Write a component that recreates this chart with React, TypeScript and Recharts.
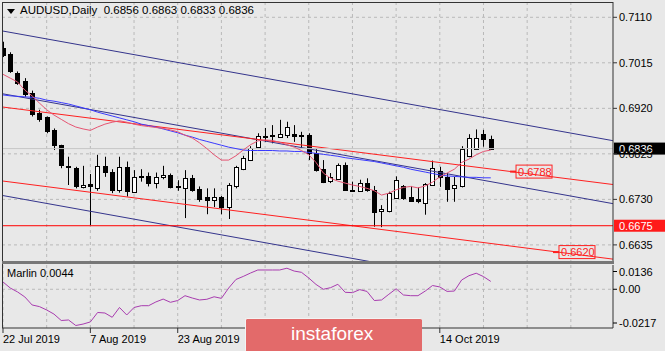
import React from 'react'
import {
  Bar,
  CartesianGrid,
  ComposedChart,
  Line,
  ReferenceDot,
  ReferenceLine,
  XAxis,
  YAxis
} from 'recharts'

// AUDUSD daily bars, 22 Jul 2019 .. 23 Oct 2019
const opens = [
  0.7046, 0.7033, 0.6994, 0.6976, 0.6953, 0.6911, 0.6901, 0.6875, 0.6844, 0.6800,
  0.6795, 0.6755, 0.6762, 0.6755, 0.6800, 0.6788, 0.6750, 0.6797, 0.6746, 0.6779,
  0.6779, 0.6764, 0.6776, 0.6781, 0.6758, 0.6753, 0.6775, 0.6751, 0.6734, 0.6727,
  0.6734, 0.6714, 0.6758, 0.6793, 0.6811, 0.6840, 0.6862, 0.6864, 0.6861, 0.6864,
  0.6867, 0.6864, 0.6864, 0.6826, 0.6793, 0.6767, 0.6772, 0.6802, 0.6750, 0.6748,
  0.6765, 0.6750, 0.6705, 0.6706, 0.6733, 0.6758, 0.6736, 0.6730, 0.6722, 0.6760,
  0.6790, 0.6777, 0.6753, 0.6757, 0.6821, 0.6836, 0.6866, 0.6856
]
const highs = [
  0.7059, 0.7037, 0.6997, 0.6983, 0.6957, 0.6917, 0.6903, 0.6878, 0.6844, 0.6819,
  0.6798, 0.6800, 0.6783, 0.6823, 0.6819, 0.6793, 0.6819, 0.6809, 0.6791, 0.6793,
  0.6786, 0.6786, 0.6800, 0.6784, 0.6770, 0.6791, 0.6781, 0.6757, 0.6753, 0.6753,
  0.6737, 0.6764, 0.6800, 0.6821, 0.6841, 0.6868, 0.6879, 0.6885, 0.6896, 0.6892,
  0.6885, 0.6871, 0.6868, 0.6835, 0.6812, 0.6785, 0.6805, 0.6807, 0.6767, 0.6771,
  0.6774, 0.6758, 0.6718, 0.6746, 0.6778, 0.6760, 0.6758, 0.6755, 0.6764, 0.6811,
  0.6798, 0.6785, 0.6777, 0.6841, 0.6866, 0.6876, 0.6875, 0.6863
]
const lows = [
  0.7027, 0.6994, 0.6969, 0.6944, 0.6903, 0.6892, 0.6868, 0.6833, 0.6795, 0.6760,
  0.6753, 0.6753, 0.6676, 0.6748, 0.6777, 0.6743, 0.6744, 0.6736, 0.6744, 0.6767,
  0.6757, 0.6753, 0.6772, 0.6753, 0.6748, 0.6691, 0.6746, 0.6725, 0.6699, 0.6714,
  0.6699, 0.6689, 0.6753, 0.6791, 0.6810, 0.6839, 0.6850, 0.6847, 0.6860, 0.6858,
  0.6850, 0.6837, 0.6812, 0.6788, 0.6764, 0.6764, 0.6771, 0.6748, 0.6746, 0.6746,
  0.6746, 0.6673, 0.6672, 0.6703, 0.6731, 0.6729, 0.6725, 0.6722, 0.6698, 0.6758,
  0.6756, 0.6725, 0.6725, 0.6755, 0.6818, 0.6834, 0.6840, 0.6833
]
const closes = [
  0.7031, 0.6998, 0.6973, 0.6948, 0.6910, 0.6899, 0.6871, 0.6844, 0.6802, 0.6799,
  0.6757, 0.6760, 0.6757, 0.6800, 0.6788, 0.6750, 0.6797, 0.6746, 0.6777, 0.6776,
  0.6764, 0.6776, 0.6781, 0.6757, 0.6757, 0.6774, 0.6751, 0.6730, 0.6727, 0.6734,
  0.6714, 0.6760, 0.6798, 0.6816, 0.6837, 0.6862, 0.6863, 0.6861, 0.6867, 0.6881,
  0.6863, 0.6863, 0.6826, 0.6791, 0.6765, 0.6776, 0.6802, 0.6750, 0.6748, 0.6765,
  0.6750, 0.6704, 0.6710, 0.6743, 0.6771, 0.6733, 0.6727, 0.6725, 0.6762, 0.6795,
  0.6777, 0.6751, 0.6760, 0.6835, 0.6858, 0.6858, 0.6856, 0.6836
]
const fastMa = [
  0.6991, 0.6983, 0.6975, 0.6958, 0.6946, 0.6931, 0.6917, 0.6906, 0.6897, 0.6888,
  0.6881, 0.6877, 0.6874, 0.6881, 0.6887, 0.6891, 0.6894, 0.6891, 0.6887, 0.6884,
  0.6882, 0.6880, 0.6878, 0.6875, 0.6871, 0.6864, 0.6858, 0.6848, 0.6836, 0.6823,
  0.6812, 0.6812, 0.6821, 0.6833, 0.6844, 0.6852, 0.6854, 0.6853, 0.6849, 0.6844,
  0.6839, 0.6832, 0.6823, 0.6807, 0.6785, 0.6774, 0.6768, 0.6764, 0.6760, 0.6757,
  0.6753, 0.6748, 0.6739, 0.6743, 0.6750, 0.6755, 0.6757, 0.6754, 0.6758, 0.6766,
  0.6777, 0.6785, 0.6793, 0.6807, 0.6814, 0.6823, 0.6830, 0.6833
]
const slowMa = [
  0.6948, 0.6946, 0.6945, 0.6944, 0.6943, 0.6941, 0.6937, 0.6935, 0.6932, 0.6929,
  0.6925, 0.6921, 0.6917, 0.6912, 0.6908, 0.6904, 0.6900, 0.6896, 0.6892, 0.6887,
  0.6884, 0.6881, 0.6877, 0.6873, 0.6869, 0.6864, 0.6860, 0.6855, 0.6851, 0.6847,
  0.6843, 0.6839, 0.6836, 0.6833, 0.6832, 0.6832, 0.6832, 0.6832, 0.6831, 0.6831,
  0.6830, 0.6830, 0.6828, 0.6826, 0.6824, 0.6822, 0.6820, 0.6817, 0.6815, 0.6813,
  0.6811, 0.6809, 0.6806, 0.6803, 0.6800, 0.6797, 0.6793, 0.6790, 0.6787, 0.6784,
  0.6781, 0.6779, 0.6778, 0.6777, 0.6776, 0.6776, 0.6775, 0.6775
]
const marlin = [
  0.0041, 0.0007, -0.0015, -0.0043, -0.0088, -0.0097, -0.0116, -0.0139, -0.0175, -0.0172,
  -0.0203, -0.0195, -0.0183, -0.013, -0.0133, -0.0157, -0.0102, -0.0144, -0.0102, -0.0092,
  -0.0092, -0.0071, -0.0055, -0.0073, -0.0063, -0.0036, -0.0049, -0.006, -0.0056, -0.0042,
  -0.0051, 0.0007, 0.0055, 0.0072, 0.0091, 0.0108, 0.0108, 0.0108, 0.0108, 0.0118,
  0.0102, 0.0095, 0.0063, 0.0027, 0.0, 0.0009, 0.0028, -0.0017, -0.0019, -0.0002,
  -0.0012, -0.0063, -0.006, -0.0028, 0.0003, -0.0032, -0.0036, -0.0036, -0.001, 0.0021,
  0.0013, -0.0012, -0.001, 0.0052, 0.0076, 0.009, 0.0071, 0.0044
]

const priceTicks = [0.6635, 0.673, 0.6825, 0.692, 0.7015, 0.711]
const marlinTicks = [-0.0217, 0, 0.0136]
// labels under the watermark (10 Sep, 26 Sep) are not visible, so left out
const dateTicks = [0, 12, 24, 60]
const dateLabels = ['22 Jul 2019', '7 Aug 2019', '23 Aug 2019', '14 Oct 2019']
const gridBars = [0, 6, 12, 18, 24, 30, 36, 42, 48, 54, 60, 66, 72, 78]

// trend lines: [barIndex, price] at both ends
const blueChannel = [
  [[-0.137, 0.70816], [83.79, 0.68525]],
  [[-0.137, 0.69506], [83.79, 0.67211]],
  [[-0.137, 0.67383], [83.79, 0.6509]]
]
const redChannel = [
  [[-0.137, 0.69229], [83.79, 0.6761]],
  [[-0.137, 0.67685], [83.79, 0.66053]]
]
const supportLevel = 0.6675
const lastPrice = 0.6836
const lineTags = [
  { bar: 70.47, price: 0.6788, text: '0.6788' },
  { bar: 76.37, price: 0.662, text: '0.6620' }
]

const xDomain = [-0.137, 83.79]
const priceDomain = [0.66014, 0.71419]
const marlinDomain = [-0.0217, 0.0136]

const FONT = '"Liberation Sans", Arial, sans-serif'
const BG = '#e8e8e8'
const GRID = '#b9b9b9'
const NAVY = '#34348c'
const RED = '#ff2020'

const rows = opens.map((open, i) => ({
  i,
  open,
  high: highs[i],
  low: lows[i],
  close: closes[i],
  fast: fastMa[i],
  slow: slowMa[i],
  marlin: marlin[i]
}))

function Candle(props: any) {
  const { x, y, width, height, payload } = props
  if (x == null || payload == null) return null
  const top = Math.min(y, y + height)
  const h = Math.abs(height)
  const span = payload.high - payload.low
  const k = span > 0 ? h / span : 0
  const cx = Math.round(x + width / 2) + 0.5
  const bTop = top + (payload.high - Math.max(payload.open, payload.close)) * k
  const bBot = top + (payload.high - Math.min(payload.open, payload.close)) * k
  const up = payload.close >= payload.open
  return (
    <g>
      <line x1={cx} x2={cx} y1={top} y2={top + h} stroke="#000" />
      <rect
        x={cx - 2}
        y={Math.round(bTop) + 0.5}
        width={4}
        height={Math.max(1, Math.round(bBot - bTop))}
        fill={up ? '#fff' : '#000'}
        stroke="#000"
      />
    </g>
  )
}

function LineTag({ cx, cy, text }: any) {
  if (cx == null) return null
  return (
    <g>
      <line x1={cx - 6} x2={cx} y1={cy} y2={cy} stroke={RED} strokeWidth={2} />
      <rect x={cx} y={cy - 6.5} width={36} height={13} fill="none" stroke={RED} />
      <text x={cx + 2} y={cy + 4} fill={RED} fontSize={11} fontFamily={FONT}>
        {text}
      </text>
    </g>
  )
}

function AxisBox({ viewBox, text, fill }: any) {
  if (!viewBox) return null
  const x = viewBox.x + viewBox.width + 1
  const y = viewBox.y
  return (
    <g>
      <rect x={x} y={y - 6} width={52} height={12} fill={fill} />
      <text x={x + 5} y={y + 4} fill="#fff" fontSize={11} fontFamily={FONT}>
        {text}
      </text>
    </g>
  )
}

function MarlinTick({ x, y, payload }: any) {
  const v = payload.value
  const shift = v > 0.01 ? 6.5 : v < -0.02 ? -5 : 0
  const label = v === 0 ? '0.00' : v.toFixed(4)
  return (
    <g>
      <line x1={x - 6} x2={x - 2} y1={y + shift} y2={y + shift} stroke="#000" />
      <text x={x} y={y + shift + 4} fontSize={11} fontFamily={FONT} fill="#000">
        {label}
      </text>
    </g>
  )
}

function DateTick({ x, y, payload }: any) {
  const idx = dateTicks.indexOf(payload.value)
  return (
    <text x={x} y={y} dy="0.71em" fontSize={11} fontFamily={FONT} fill="#000" textAnchor="start">
      {dateLabels[idx]}
    </text>
  )
}

export default function App() {
  return (
    <div
      style={{
        position: 'absolute',
        left: 0,
        top: 0,
        width: 665,
        height: 351,
        background: BG,
        overflow: 'hidden',
        fontFamily: FONT
      }}
    >
      <div style={{ position: 'absolute', left: 0, top: 0 }}>
        <ComposedChart width={665} height={263} data={rows} margin={{ top: 2, right: 0, bottom: 2, left: 2 }}>
          <CartesianGrid
            stroke={GRID}
            strokeDasharray="3 3"
            horizontalValues={priceTicks}
            verticalValues={gridBars}
          />
          <XAxis type="number" dataKey="i" domain={xDomain} allowDataOverflow hide />
          <YAxis
            orientation="right"
            width={52}
            domain={priceDomain}
            allowDataOverflow
            ticks={priceTicks}
            interval={0}
            tickFormatter={(v: number) => v.toFixed(4)}
            tick={{ fontSize: 11, fontFamily: FONT, fill: '#000', textAnchor: 'start' }}
            tickSize={4}
            tickMargin={2}
            stroke="#333"
          />
          {blueChannel.map((seg, k) => (
            <ReferenceLine
              key={'b' + k}
              segment={[{ x: seg[0][0], y: seg[0][1] }, { x: seg[1][0], y: seg[1][1] }]}
              stroke={NAVY}
              ifOverflow="hidden"
            />
          ))}
          {redChannel.map((seg, k) => (
            <ReferenceLine
              key={'r' + k}
              segment={[{ x: seg[0][0], y: seg[0][1] }, { x: seg[1][0], y: seg[1][1] }]}
              stroke={RED}
              ifOverflow="hidden"
            />
          ))}
          <ReferenceLine
            y={lastPrice}
            stroke="#c6c6c6"
            label={{ content: (p: any) => <AxisBox viewBox={p.viewBox} text={lastPrice.toFixed(4)} fill="#000" /> }}
          />
          <ReferenceLine
            y={supportLevel}
            stroke="#ff0000"
            label={{ content: (p: any) => <AxisBox viewBox={p.viewBox} text={supportLevel.toFixed(4)} fill="#ff1a1a" /> }}
          />
          <Line dataKey="slow" stroke="#3a3aff" strokeWidth={1} dot={false} isAnimationActive={false} />
          <Line dataKey="fast" stroke="#e65573" strokeWidth={1} dot={false} isAnimationActive={false} />
          <Bar
            dataKey={(d: any) => [d.low, d.high]}
            barSize={5}
            shape={<Candle />}
            isAnimationActive={false}
          />
          {lineTags.map((t) => (
            <ReferenceDot
              key={t.text}
              x={t.bar}
              y={t.price}
              r={1}
              shape={(p: any) => <LineTag cx={p.cx} cy={p.cy} text={t.text} />}
            />
          ))}
        </ComposedChart>
      </div>

      <div style={{ position: 'absolute', left: 0, top: 263 }}>
        <ComposedChart width={665} height={88} data={rows} margin={{ top: 2, right: 0, bottom: 0, left: 2 }}>
          <CartesianGrid
            stroke={GRID}
            strokeDasharray="3 3"
            horizontalValues={[0]}
            verticalValues={gridBars}
          />
          <XAxis
            type="number"
            dataKey="i"
            domain={xDomain}
            allowDataOverflow
            ticks={dateTicks}
            interval={0}
            tick={<DateTick />}
            tickSize={5}
            tickMargin={2}
            height={23}
            stroke="#333"
          />
          <YAxis
            orientation="right"
            width={52}
            domain={marlinDomain}
            allowDataOverflow
            ticks={marlinTicks}
            interval={0}
            tick={<MarlinTick />}
            tickLine={false}
            tickSize={4}
            tickMargin={2}
            stroke="#333"
          />
          <Line dataKey="marlin" stroke="#a83caf" strokeWidth={1} dot={false} isAnimationActive={false} />
        </ComposedChart>
      </div>

      {/* frame */}
      <div style={{ position: 'absolute', left: 2, top: 2, width: 611, height: 259, borderLeft: '1px solid #333', borderTop: '1px solid #333', boxSizing: 'border-box' }} />
      <div style={{ position: 'absolute', left: 2, top: 261, width: 612, height: 3, background: '#777' }} />
      <div style={{ position: 'absolute', left: 2, top: 264, width: 1, height: 64, background: '#333' }} />

      {/* title */}
      <div style={{ position: 'absolute', left: 7, top: 9, width: 0, height: 0, borderLeft: '4px solid transparent', borderRight: '4px solid transparent', borderTop: '5px solid #000' }} />
      <div style={{ position: 'absolute', left: 20, top: 4, fontSize: 11.5, color: '#000', whiteSpace: 'pre' }}>
        {'AUDUSD,Daily  0.6856 0.6863 0.6833 0.6836'}
      </div>
      <div style={{ position: 'absolute', left: 7, top: 267, fontSize: 11, color: '#000', whiteSpace: 'pre' }}>
        {'Marlin 0.0044'}
      </div>

      {/* watermark */}
      <div
        style={{
          position: 'absolute',
          left: 245,
          top: 318,
          width: 177,
          height: 34,
          background: '#e36a6a',
          borderTop: '1px solid #f3f3f3',
          borderLeft: '1px solid #f3f3f3',
          borderRadius: 2,
          boxSizing: 'border-box',
          color: '#fff',
          fontSize: 19,
          lineHeight: '30px',
          paddingLeft: 45
        }}
      >
        instaforex
      </div>
    </div>
  )
}
